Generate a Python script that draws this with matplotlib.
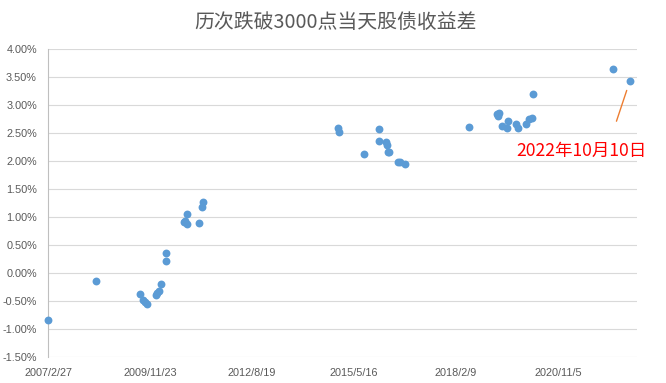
import matplotlib
matplotlib.use("Agg")
import matplotlib.pyplot as plt
import pandas as pd

# dates when the index fell below 3000, and the equity-bond yield spread (%)
dates = [
    "2007-02-27", "2008-06-13", "2009-08-20", "2009-09-18", "2009-10-05",
    "2009-10-21", "2010-01-21", "2010-02-03", "2010-02-19", "2010-03-14",
    "2010-04-24", "2010-04-26", "2010-10-25", "2010-11-04", "2010-11-16",
    "2010-11-18", "2011-03-14", "2011-04-17", "2011-04-30", "2014-12-13",
    "2014-12-23", "2015-08-25", "2016-01-19", "2016-01-18", "2016-03-25",
    "2016-03-31", "2016-04-10", "2016-04-26", "2016-07-18", "2016-08-06",
    "2016-09-27", "2018-06-17", "2019-03-15", "2019-03-25", "2019-04-04",
    "2019-05-09", "2019-06-21", "2019-07-07", "2019-09-17", "2019-10-12",
    "2019-12-27", "2020-01-26", "2020-02-27", "2020-03-08", "2022-05-01",
    "2022-10-10",
]
spread = [
    -0.84, -0.13, -0.375, -0.48, -0.52,
    -0.55, -0.39, -0.35, -0.32, -0.20,
    0.365, 0.225, 0.91, 0.94, 1.05,
    0.875, 0.89, 1.19, 1.27, 2.59,
    2.53, 2.125, 2.58, 2.36, 2.34,
    2.29, 2.16, 2.16, 1.98, 1.98,
    1.95, 2.61, 2.84, 2.80, 2.86,
    2.63, 2.60, 2.72, 2.66, 2.60,
    2.67, 2.75, 2.77, 3.21, 3.64,
    3.43,
]
y_ticks = [-1.5, -1.0, -0.5, 0.0, 0.5, 1.0, 1.5, 2.0, 2.5, 3.0, 3.5, 4.0]
x_start = "2007-02-27"
x_end = "2022-12-20"
title = "历次跌破3000点当天股债收益差"
note = "2022年10月10日"

cjk = ["Noto Sans CJK SC", "DejaVu Sans"]
tick_font = "Liberation Sans"
grey = "#595959"

x = pd.to_datetime(dates)

fig = plt.figure(figsize=(6.66, 3.83), dpi=100)
ax = fig.add_axes([0.0721, 0.0671, 0.8844, 0.8042])

ax.scatter(x, spread, s=32, color="#5B9BD5", zorder=3, clip_on=False,
           linewidths=0)

# annotation for the latest point
ax.annotate("", xy=(x[-1], spread[-1]), xytext=(-9.6, -28.8),
            textcoords="offset points",
            arrowprops=dict(arrowstyle="-", color="#ED7D31", lw=1,
                            shrinkA=0, shrinkB=7))
ax.annotate(note, xy=(x[-1], spread[-1]), xytext=(-35, -50.5),
            textcoords="offset points", ha="center", va="center",
            color="#FF0000", fontsize=12.6, family=cjk)

# axes
x_ticks = pd.date_range(x_start, periods=6, freq="1000D")
ax.set_xticks(x_ticks)
ax.set_xticklabels([f"{d.year}/{d.month}/{d.day}" for d in x_ticks],
                   family=tick_font, fontsize=7.8, color=grey)
ax.set_xlim(pd.Timestamp(x_start), pd.Timestamp(x_end))

ax.set_yticks(y_ticks)
ax.set_yticklabels([f"{v:.2f}%" for v in y_ticks],
                   family=tick_font, fontsize=7.8, color=grey)
ax.set_ylim(y_ticks[0], y_ticks[-1])

ax.tick_params(axis="both", length=0)
ax.tick_params(axis="y", pad=8)
ax.tick_params(axis="x", pad=8)
ax.grid(axis="y", color="#d9d9d9", lw=0.8)
ax.set_axisbelow(True)
for side in ["top", "right", "bottom"]:
    ax.spines[side].set_visible(False)
ax.spines["left"].set_color("#bfbfbf")
ax.spines["left"].set_linewidth(0.8)

fig.text(0.504, 1 - 22 / 383, title, ha="center", va="center",
         fontsize=14.3, color=grey, family=cjk)

plt.savefig("out.png", dpi=100)
plt.close()
